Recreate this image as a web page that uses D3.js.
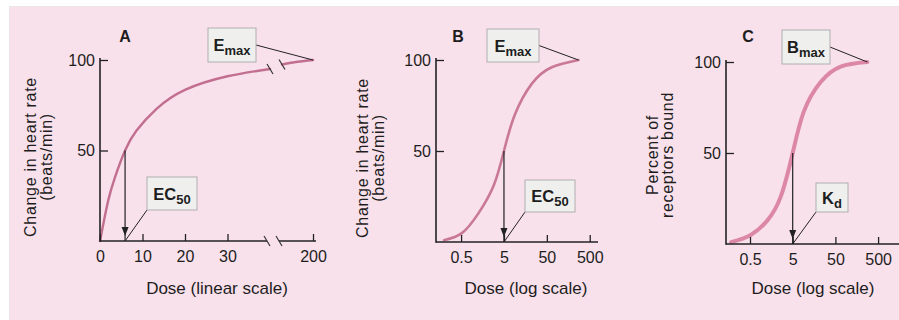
<!DOCTYPE html>
<html>
<head>
<meta charset="utf-8">
<script src="https://cdnjs.cloudflare.com/ajax/libs/d3/7.8.5/d3.min.js"></script>
<style>
body { margin: 0; background: #fff; }
svg { display: block; font-family: "Liberation Sans", Arial, Helvetica, sans-serif; }
.tick text { font-size: 16px; fill: #1d1d1d; }
.tick line { stroke: #222; stroke-width: 1.3; }
</style>
</head>
<body>
<script>
// text
var panelLetters = ["A", "B", "C"];
var yTitles = [["Change in heart rate", "(beats/min)"],
               ["Change in heart rate", "(beats/min)"],
               ["Percent of", "receptors bound"]];
var xTitles = ["Dose (linear scale)", "Dose (log scale)", "Dose (log scale)"];
var yTickValues = [50, 100];
var xTicksA = [0, 10, 20, 30, 200];
var xTicksLog = [0.5, 5, 50, 500];

// curve A, linear dose, two pieces either side of the axis break
var doseA = [0, 1, 2, 3.5, 5.9, 8.6, 13.3, 20, 30, 40];
var effectA = [0, 12, 23, 35, 50, 61, 73, 83.5, 91, 95];
var doseA2 = [160, 180, 200];
var effectA2 = [97.5, 99, 100];

// curve B, log dose
var doseB = [0.2, 0.53, 1.29, 2.88, 5, 9, 22.4, 65, 273];
var effectB = [1, 5, 16, 31, 50, 70, 87, 96, 100];

// curve C, log dose, receptor binding
var doseC = [0.18, 0.52, 1.28, 2.62, 5, 9.2, 22.6, 66.5, 280];
var boundC = [1, 5, 13, 26, 50, 73, 89, 97.5, 100];

// half-maximal doses (EC50, EC50, Kd)
var halfDoses = [5.9, 5, 5];
var maxLabels = [["E", "max"], ["E", "max"], ["B", "max"]];
var halfLabels = [["EC", "50"], ["EC", "50"], ["K", "d"]];

var width = 899, height = 320;
var ink = "#1d1d1d";

var svg = d3.select("body")
    .append("svg")
    .attr("width", width)
    .attr("height", height);

// pink panel with a faint shadow edge
svg.append("rect")
    .attr("x", 9).attr("y", 6)
    .attr("width", width - 9).attr("height", height - 6)
    .style("fill", "#ebe4e8");
svg.append("rect")
    .attr("x", 10).attr("y", 7)
    .attr("width", width - 10).attr("height", height - 7)
    .style("fill", "#f9e1eb");

var xA = d3.scaleLinear().domain([0, 40, 160, 200]).range([100, 270, 282, 313]);
var xB = d3.scaleLog().domain([0.13, 780]).range([436, 598]);
var xC = d3.scaleLog().domain([0.137, 1545]).range([726, 899]);
var yA = d3.scaleLinear().domain([0, 100]).range([241, 60]);
var yB = d3.scaleLinear().domain([0, 100]).range([242, 60]);
var yC = d3.scaleLinear().domain([0, 100]).range([244, 62]);

var panels = [
    { x: xA, y: yA, curves: [[doseA, effectA], [doseA2, effectA2]], color: "#c26f8f", lw: 2.4,
      xTicks: xTicksA, xEnd: 316, letterX: 125, titleX: 217, yt: [36, 52], ytY: 157,
      maxBox: [208, 28, 48, 34], halfBox: [147, 177, 50, 33] },
    { x: xB, y: yB, curves: [[doseB, effectB]], color: "#c97895", lw: 2.6,
      xTicks: xTicksLog, xEnd: 598, letterX: 458, titleX: 526, yt: [368, 384], ytY: 158,
      maxBox: [487, 29, 52, 33], halfBox: [525, 180, 50, 32] },
    { x: xC, y: yC, curves: [[doseC, boundC]], color: "#dc88a5", lw: 4,
      xTicks: xTicksLog, xEnd: 899, letterX: 748, titleX: 813, yt: [658, 673], ytY: 155,
      maxBox: [782, 30, 48, 34], halfBox: [816, 183, 32, 29] }
];

function label(g, box, parts) {
    g.append("rect")
        .attr("x", box[0]).attr("y", box[1])
        .attr("width", box[2]).attr("height", box[3])
        .style("fill", "#eff0ee")
        .style("stroke", "#b0adb0")
        .style("stroke-width", 1);
    var t = g.append("text")
        .attr("x", box[0] + box[2] / 2)
        .attr("y", box[1] + box[3] / 2 + 6)
        .attr("text-anchor", "middle")
        .style("font-weight", "bold")
        .style("fill", ink);
    t.append("tspan").style("font-size", "16.5px").text(parts[0]);
    t.append("tspan").style("font-size", "13px").attr("dy", 4).text(parts[1]);
}

panels.forEach(function (p, i) {
    var g = svg.append("g");
    var x0 = p.x.range()[0];
    var y0 = p.y(0);

    // curves
    var line = d3.line()
        .x(function (d) { return p.x(d[0]); })
        .y(function (d) { return p.y(d[1]); })
        .curve(d3.curveNatural);
    p.curves.forEach(function (c) {
        g.append("path")
            .datum(d3.zip(c[0], c[1]))
            .attr("d", line)
            .style("fill", "none")
            .style("stroke", p.color)
            .style("stroke-width", p.lw)
            .style("stroke-linecap", "round");
    });

    // x axis
    var xAxis = (i === 0 ? d3.axisBottom(p.x).tickFormat(d3.format("d"))
                         : d3.axisBottom(p.x).tickFormat(d3.format("~g")))
        .tickValues(p.xTicks)
        .tickSize(-7)
        .tickPadding(10);
    var gx = g.append("g")
        .attr("transform", "translate(0," + y0 + ")")
        .call(xAxis);
    gx.select(".domain").remove();
    gx.selectAll(".tick text").style("fill", ink);

    // y axis
    var yAxis = d3.axisLeft(p.y).tickValues(yTickValues).tickSize(-8).tickPadding(5);
    var gy = g.append("g")
        .attr("transform", "translate(" + x0 + ",0)")
        .call(yAxis);
    gy.select(".domain").remove();
    gy.selectAll(".tick text").attr("text-anchor", "end").style("fill", ink);

    g.append("line")
        .attr("x1", x0).attr("x2", x0)
        .attr("y1", y0 + 0.7).attr("y2", p.y(100) - 2)
        .style("stroke", "#222").style("stroke-width", 1.6);

    if (i === 0) {
        var gapL = p.x(40) - 3, gapR = p.x(160) - 3;
        [[x0, gapL], [gapR, p.xEnd]].forEach(function (s) {
            g.append("line")
                .attr("x1", s[0]).attr("x2", s[1])
                .attr("y1", y0).attr("y2", y0)
                .style("stroke", "#222").style("stroke-width", 1.6);
        });
        // break marks on axis and curve
        [gapL, gapR].forEach(function (bx) {
            g.append("line")
                .attr("x1", bx - 3).attr("y1", y0 - 5)
                .attr("x2", bx + 3).attr("y2", y0 + 5)
                .style("stroke", "#333").style("stroke-width", 1.2);
        });
        [[40, 95], [160, 97.5]].forEach(function (d) {
            var cx = p.x(d[0]), cy = p.y(d[1]);
            g.append("line")
                .attr("x1", cx - 3).attr("y1", cy - 5)
                .attr("x2", cx + 3).attr("y2", cy + 5)
                .style("stroke", "#333").style("stroke-width", 1.2);
        });
    } else {
        g.append("line")
            .attr("x1", x0).attr("x2", p.xEnd)
            .attr("y1", y0).attr("y2", y0)
            .style("stroke", "#222").style("stroke-width", 1.6);
    }

    // half-max arrow
    var hx = p.x(halfDoses[i]);
    g.append("line")
        .attr("x1", hx).attr("x2", hx)
        .attr("y1", p.y(50)).attr("y2", y0)
        .style("stroke", "#222").style("stroke-width", 1.2);
    var tip = y0 - 5;
    g.append("path")
        .attr("d", "M" + (hx - 3.5) + "," + (tip - 9) + "L" + (hx + 3.5) + "," + (tip - 9) + "L" + hx + "," + tip + "Z")
        .style("fill", "#222");

    // leader lines
    var last = p.curves[p.curves.length - 1];
    var endX = p.x(last[0][last[0].length - 1]);
    var endY = p.y(last[1][last[1].length - 1]);
    g.append("line")
        .attr("x1", p.maxBox[0] + p.maxBox[2]).attr("y1", p.maxBox[1] + p.maxBox[3] / 2)
        .attr("x2", endX).attr("y2", endY)
        .style("stroke", "#222").style("stroke-width", 1);
    g.append("line")
        .attr("x1", p.halfBox[0]).attr("y1", p.halfBox[1] + p.halfBox[3])
        .attr("x2", hx).attr("y2", y0)
        .style("stroke", "#222").style("stroke-width", 1);

    label(g, p.maxBox, maxLabels[i]);
    label(g, p.halfBox, halfLabels[i]);

    // panel letter
    g.append("text")
        .attr("x", p.letterX).attr("y", 42)
        .attr("text-anchor", "middle")
        .style("font-weight", "bold")
        .style("font-size", "16px")
        .style("fill", ink)
        .text(panelLetters[i]);

    // axis titles
    g.append("text")
        .attr("x", p.titleX).attr("y", 294)
        .attr("text-anchor", "middle")
        .style("font-size", "17px")
        .style("fill", ink)
        .text(xTitles[i]);
    yTitles[i].forEach(function (s, k) {
        g.append("text")
            .attr("transform", "translate(" + p.yt[k] + "," + p.ytY + ") rotate(-90)")
            .attr("text-anchor", "middle")
            .style("font-size", "16px")
            .style("letter-spacing", "0.7px")
            .style("fill", ink)
            .text(s);
    });
});
</script>
</body>
</html>
